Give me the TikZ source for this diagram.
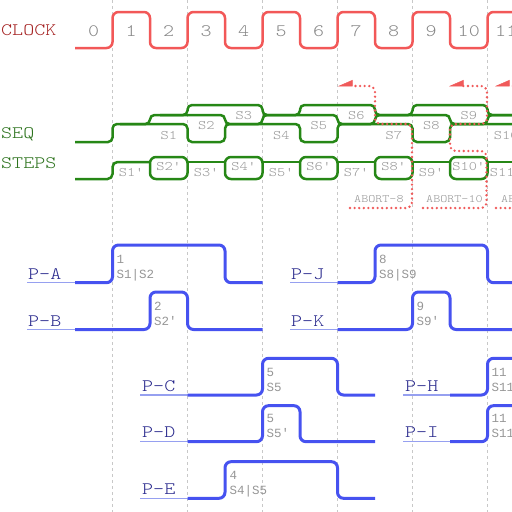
\documentclass[tikz,border=0pt]{standalone}
\usepackage{fontspec}
\usetikzlibrary{arrows.meta}
\setmonofont{lmmonolt10-regular.otf}[FakeStretch=1.2]
\newfontfamily\annfont{Liberation Mono}
\definecolor{clkred}{RGB}{242,88,88}
\definecolor{clkname}{RGB}{165,35,35}
\definecolor{seqgreen}{RGB}{38,135,22}
\definecolor{seqname}{RGB}{45,115,30}
\definecolor{numgray}{RGB}{135,135,135}
\definecolor{lblgray}{RGB}{150,150,150}
\definecolor{gridgray}{RGB}{200,200,200}
\definecolor{pblue}{RGB}{70,82,240}
\definecolor{plight}{RGB}{150,160,240}
\definecolor{pname}{RGB}{40,40,140}
\definecolor{abred}{RGB}{240,90,90}
\begin{document}
\begin{tikzpicture}[x=1pt,y=-1pt,
  gridline/.style={draw=gridgray, line width=0.9pt, dash pattern=on 3pt off 3pt},
  clockwave/.style={draw=clkred, line width=2.5pt, rounded corners=6pt},
  seqwave/.style={draw=seqgreen, line width=2.5pt, rounded corners=4.5pt},
  stepbox/.style={draw=seqgreen, line width=2.5pt, rounded corners=6pt},
  pwave/.style={draw=pblue, line width=3pt, rounded corners=6pt},
  uline/.style={draw=plight, line width=1.5pt},
  abortpath/.style={draw=abred, line width=2.6pt, dash pattern=on 0pt off 4.6pt, line cap=round, rounded corners=6pt},
  abtip/.style={-{Triangle[harpoon,swap,length=14pt,width=12pt,line width=0.5pt]}},
  signame/.style={font=\ttfamily\fontsize{17.5pt}{17.5pt}\selectfont, inner sep=0pt, anchor=base west},
  clknum/.style={font=\ttfamily\fontsize{17.5pt}{17.5pt}\selectfont, text=numgray, inner sep=0pt, anchor=base},
  slabel/.style={font=\ttfamily\fontsize{13pt}{13pt}\selectfont, text=lblgray, inner sep=0pt, anchor=base},
  ablabel/.style={font=\ttfamily\fontsize{11.2pt}{11.2pt}\selectfont, text=lblgray, inner sep=0pt, anchor=base west},
  annot/.style={font=\annfont\fontsize{12.5pt}{12.5pt}\selectfont, text=lblgray, inner sep=0pt, anchor=base west},
]
\useasboundingbox (0,0) rectangle (512,512);
\begin{scope}
\clip (0,0) rectangle (512,512);
% grid
\foreach \t in {112.5,187.5,262.5,337.5,412.5,487.5}
  \draw[gridline] (\t,0) -- (\t,512);
% clock
\node[signame, text=clkname] (clock) at (1,35) {CLOCK};
\draw[clockwave] (75,48) -- (112.5,48) -- (112.5,12) -- (150,12) -- (150,48) -- (187.5,48) -- (187.5,12) -- (225,12) -- (225,48) -- (262.5,48) -- (262.5,12) -- (300,12) -- (300,48) -- (337.5,48) -- (337.5,12) -- (375,12) -- (375,48) -- (412.5,48) -- (412.5,12) -- (450,12) -- (450,48) -- (487.5,48) -- (487.5,12) -- (525,12) -- (525,48) -- (545,48);
\foreach \n in {0,...,11}
  \node[clknum] (cn\n) at ({93.75+37.5*\n},36) {\n};
% SEQ
\node[signame, text=seqname] (seq) at (1,138.5) {SEQ};
\node[signame, text=seqname] (steps) at (1,168) {STEPS};
\draw[seqwave] (75,142) -- (112.5,142) -- (112.5,124) -- (187.5,124) -- (187.5,142) -- (225,142) -- (225,124) -- (300,124) -- (300,142) -- (337.5,142) -- (337.5,124) -- (412.5,124) -- (412.5,142) -- (450,142) -- (450,124) -- (525,124) -- (525,142) -- (545,142);
\draw[seqwave] (120,124) -- (150,124) -- (150,115) -- (225,115) -- (225,124) -- (262.5,124) -- (262.5,115) -- (337.5,115) -- (337.5,124) -- (375,124) -- (375,115) -- (450,115) -- (450,124) -- (487.5,124) -- (487.5,115) -- (545,115);
\draw[seqwave] (160,115) -- (187.5,115) -- (187.5,105) -- (262.5,105) -- (262.5,115) -- (300,115) -- (300,105) -- (375,105) -- (375,115) -- (412.5,115) -- (412.5,105) -- (487.5,105) -- (487.5,115) -- (525,115) -- (525,105) -- (545,105);
\foreach \k/\yy in {1/139,2/129,3/119,4/139,5/129,6/119,7/139,8/129,9/119,10/139}
  \node[slabel] (s\k) at ({131.25+37.5*\k},\yy) {S\k};
% STEPS
\draw[seqwave, rounded corners=5pt] (75,179) -- (112.5,179) -- (112.5,162) -- (150,162);
\foreach \a in {187.5,262.5,337.5,412.5,487.5}
  \draw[seqwave] (\a,162) -- ({\a+37.5},162);
\foreach \a in {150,225,300,375,450,525}
  \draw[stepbox] (\a,157) rectangle ({\a+37.5},179);
\foreach \k in {1,3,5,7,9,11}
  \node[slabel] (t\k) at ({93.75+37.5*\k},176.5) {S\k'};
\foreach \k in {2,4,6,8,10}
  \node[slabel] (t\k) at ({93.75+37.5*\k},170) {S\k'};
% ABORT paths
\coordinate (ab8s) at (350,208);
\coordinate (ab8e) at (338,86);
\coordinate (ab10s) at (423,208);
\coordinate (ab10e) at (449,86);
\coordinate (ab12s) at (496,208);
\coordinate (ab12e) at (495,86);
\draw[abortpath, abtip] (ab8s) -- (412,208) -- (412,124) -- (375,124) -- (375,86) -- (ab8e);
\draw[abortpath, abtip] (ab10s) -- (486.5,208) -- (486.5,151) -- (450,151) -- (450,124) -- (487,124) -- (487,86) -- (ab10e);
\draw[abortpath, abtip] (545,86) -- (ab12e);
\draw[abortpath] (ab12s) -- (545,208);
\node[ablabel] (ab8) at (354,202.5) {ABORT-8};
\node[ablabel] (ab10) at (426,202.5) {ABORT-10};
\node[ablabel] (ab12) at (501,202.5) {ABORT-12};
% P rows
\draw[uline] (27,282.7) -- (75,282.7);
\draw[pwave] (75,282.7) -- (112.5,282.7) -- (112.5,245) -- (225,245) -- (225,282.7) -- (262.5,282.7);
\node[signame,text=pname] (pa) at (28,279.3) {P-A};
\node[annot] (pa1) at (116.5,263.3) {1};
\node[annot] (pa2) at (116.5,278.3) {S1|S2};
\draw[uline] (27,329.5) -- (75,329.5);
\draw[pwave] (75,329.5) -- (150,329.5) -- (150,292) -- (187.5,292) -- (187.5,329.5) -- (262.5,329.5);
\node[signame,text=pname] (pb) at (28,326.3) {P-B};
\node[annot] (pb1) at (154,310.3) {2};
\node[annot] (pb2) at (154,325.3) {S2'};
\draw[uline] (290,282.7) -- (337.5,282.7);
\draw[pwave] (337.5,282.7) -- (375,282.7) -- (375,245) -- (487.5,245) -- (487.5,282.7) -- (545,282.7);
\node[signame,text=pname] (pj) at (291,279.3) {P-J};
\node[annot] (pj1) at (379,263.3) {8};
\node[annot] (pj2) at (379,278.3) {S8|S9};
\draw[uline] (290,329.5) -- (337.5,329.5);
\draw[pwave] (337.5,329.5) -- (412.5,329.5) -- (412.5,292) -- (450,292) -- (450,329.5) -- (545,329.5);
\node[signame,text=pname] (pk) at (291,326.3) {P-K};
\node[annot] (pk1) at (416.5,310.3) {9};
\node[annot] (pk2) at (416.5,325.3) {S9'};
\draw[uline] (140,395) -- (187.5,395);
\draw[pwave] (187.5,395) -- (262.5,395) -- (262.5,358.3) -- (337.5,358.3) -- (337.5,395) -- (375,395);
\node[signame,text=pname] (pc) at (142,391.5) {P-C};
\node[annot] (pc1) at (266.5,376.3) {5};
\node[annot] (pc2) at (266.5,391) {S5};
\draw[uline] (140,441.7) -- (187.5,441.7);
\draw[pwave] (187.5,441.7) -- (262.5,441.7) -- (262.5,405.7) -- (300,405.7) -- (300,441.7) -- (375,441.7);
\node[signame,text=pname] (pd) at (142,437.3) {P-D};
\node[annot] (pd1) at (266.5,422.8) {5};
\node[annot] (pd2) at (266.5,437.5) {S5'};
\draw[uline] (140,498.3) -- (187.5,498.3);
\draw[pwave] (187.5,498.3) -- (225,498.3) -- (225,461.7) -- (337.5,461.7) -- (337.5,498.3) -- (375,498.3);
\node[signame,text=pname] (pe) at (142,494) {P-E};
\node[annot] (pe1) at (229.5,479.3) {4};
\node[annot] (pe2) at (229.5,494) {S4|S5};
\draw[uline] (403,395) -- (450,395);
\draw[pwave] (450,395) -- (487.5,395) -- (487.5,358.3) -- (545,358.3);
\node[signame,text=pname] (ph) at (405,391.5) {P-H};
\node[annot] (ph1) at (491.5,376.3) {11};
\node[annot] (ph2) at (491.5,391) {S11};
\draw[uline] (403,441.7) -- (450,441.7);
\draw[pwave] (450,441.7) -- (487.5,441.7) -- (487.5,405.7) -- (545,405.7);
\node[signame,text=pname] (pi) at (405,437.3) {P-I};
\node[annot] (pi1) at (491.5,422.8) {11};
\node[annot] (pi2) at (491.5,437.5) {S11'};
\end{scope}
\end{tikzpicture}
\end{document}
